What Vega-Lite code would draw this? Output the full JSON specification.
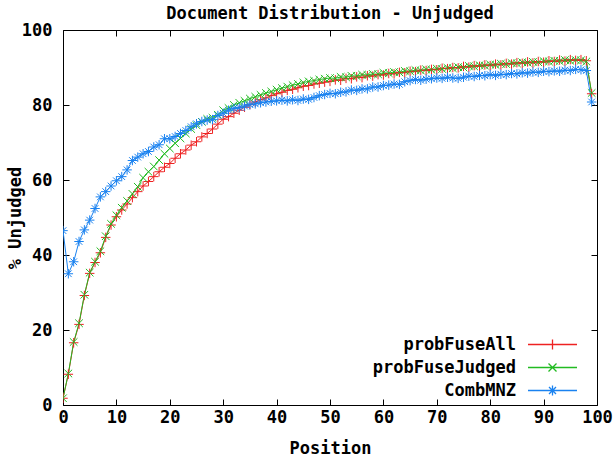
{
"$schema": "https://vega.github.io/schema/vega-lite/v6.json",
"width": 534, "height": 375,
"autosize": {"type": "none"},
"padding": {"left": 63, "top": 30, "right": 17, "bottom": 53},
"background": "white",
"title": {"text": "Document Distribution - Unjudged", "font": "DejaVu Sans Mono", "fontSize": 17, "fontWeight": "bold", "color": "#000", "anchor": "middle", "frame": "group", "offset": -2},
"config": {
 "view": {"stroke": "#000", "strokeWidth": 1},
 "axis": {"labelFont": "DejaVu Sans Mono", "labelFontSize": 17, "labelFontWeight": "bold", "labelColor": "#000", "titleFont": "DejaVu Sans Mono", "titleFontSize": 17, "titleFontWeight": "bold", "titleColor": "#000", "domain": false, "tickColor": "#000", "tickWidth": 1, "tickSize": -6, "grid": false, "labelFlush": false, "labelOverlap": false, "labelBound": false},
 "legend": {"title": null, "padding": 0, "labelFont": "DejaVu Sans Mono", "labelFontSize": 17, "labelFontWeight": "bold", "labelColor": "#000", "labelAlign": "right", "labelOffset": -45, "symbolSize": 100, "symbolStrokeWidth": 1.3, "rowPadding": 5, "labelLimit": 300}
},
"datasets": {"d": [
{"p":0,"s":"probFuseAll","v":1.8},{"p":1,"s":"probFuseAll","v":8.2},{"p":2,"s":"probFuseAll","v":16.6},{"p":3,"s":"probFuseAll","v":21.5},{"p":4,"s":"probFuseAll","v":29.2},{"p":5,"s":"probFuseAll","v":35.1},{"p":6,"s":"probFuseAll","v":38.0},{"p":7,"s":"probFuseAll","v":40.6},{"p":8,"s":"probFuseAll","v":44.7},{"p":9,"s":"probFuseAll","v":48.0},
{"p":10,"s":"probFuseAll","v":50.2},{"p":11,"s":"probFuseAll","v":52.0},{"p":12,"s":"probFuseAll","v":53.6},{"p":13,"s":"probFuseAll","v":55.3},{"p":14,"s":"probFuseAll","v":56.9},{"p":15,"s":"probFuseAll","v":58.4},{"p":16,"s":"probFuseAll","v":59.6},{"p":17,"s":"probFuseAll","v":60.9},{"p":18,"s":"probFuseAll","v":62.2},{"p":19,"s":"probFuseAll","v":63.4},
{"p":20,"s":"probFuseAll","v":64.4},{"p":21,"s":"probFuseAll","v":65.8},{"p":22,"s":"probFuseAll","v":67.0},{"p":23,"s":"probFuseAll","v":68.0},{"p":24,"s":"probFuseAll","v":69.3},{"p":25,"s":"probFuseAll","v":70.2},{"p":26,"s":"probFuseAll","v":71.5},{"p":27,"s":"probFuseAll","v":72.4},{"p":28,"s":"probFuseAll","v":73.6},{"p":29,"s":"probFuseAll","v":74.9},
{"p":30,"s":"probFuseAll","v":76.2},{"p":31,"s":"probFuseAll","v":76.9},{"p":32,"s":"probFuseAll","v":77.8},{"p":33,"s":"probFuseAll","v":78.6},{"p":34,"s":"probFuseAll","v":79.4},{"p":35,"s":"probFuseAll","v":80.1},{"p":36,"s":"probFuseAll","v":80.8},{"p":37,"s":"probFuseAll","v":81.4},{"p":38,"s":"probFuseAll","v":81.9},{"p":39,"s":"probFuseAll","v":82.5},
{"p":40,"s":"probFuseAll","v":83.0},{"p":41,"s":"probFuseAll","v":83.4},{"p":42,"s":"probFuseAll","v":83.9},{"p":43,"s":"probFuseAll","v":84.2},{"p":44,"s":"probFuseAll","v":84.6},{"p":45,"s":"probFuseAll","v":85.0},{"p":46,"s":"probFuseAll","v":85.2},{"p":47,"s":"probFuseAll","v":85.6},{"p":48,"s":"probFuseAll","v":85.8},{"p":49,"s":"probFuseAll","v":86.1},
{"p":50,"s":"probFuseAll","v":86.3},{"p":51,"s":"probFuseAll","v":86.7},{"p":52,"s":"probFuseAll","v":86.6},{"p":53,"s":"probFuseAll","v":87.1},{"p":54,"s":"probFuseAll","v":87.0},{"p":55,"s":"probFuseAll","v":87.5},{"p":56,"s":"probFuseAll","v":87.3},{"p":57,"s":"probFuseAll","v":87.8},{"p":58,"s":"probFuseAll","v":87.7},{"p":59,"s":"probFuseAll","v":88.1},
{"p":60,"s":"probFuseAll","v":88.0},{"p":61,"s":"probFuseAll","v":88.4},{"p":62,"s":"probFuseAll","v":88.3},{"p":63,"s":"probFuseAll","v":88.7},{"p":64,"s":"probFuseAll","v":88.6},{"p":65,"s":"probFuseAll","v":89.0},{"p":66,"s":"probFuseAll","v":88.9},{"p":67,"s":"probFuseAll","v":89.3},{"p":68,"s":"probFuseAll","v":89.2},{"p":69,"s":"probFuseAll","v":89.5},
{"p":70,"s":"probFuseAll","v":89.4},{"p":71,"s":"probFuseAll","v":89.8},{"p":72,"s":"probFuseAll","v":89.7},{"p":73,"s":"probFuseAll","v":90.0},{"p":74,"s":"probFuseAll","v":89.9},{"p":75,"s":"probFuseAll","v":90.3},{"p":76,"s":"probFuseAll","v":90.1},{"p":77,"s":"probFuseAll","v":90.5},{"p":78,"s":"probFuseAll","v":90.3},{"p":79,"s":"probFuseAll","v":90.7},
{"p":80,"s":"probFuseAll","v":90.5},{"p":81,"s":"probFuseAll","v":90.9},{"p":82,"s":"probFuseAll","v":90.7},{"p":83,"s":"probFuseAll","v":91.1},{"p":84,"s":"probFuseAll","v":90.9},{"p":85,"s":"probFuseAll","v":91.3},{"p":86,"s":"probFuseAll","v":91.1},{"p":87,"s":"probFuseAll","v":91.5},{"p":88,"s":"probFuseAll","v":91.2},{"p":89,"s":"probFuseAll","v":91.6},
{"p":90,"s":"probFuseAll","v":91.4},{"p":91,"s":"probFuseAll","v":91.8},{"p":92,"s":"probFuseAll","v":91.6},{"p":93,"s":"probFuseAll","v":92.0},{"p":94,"s":"probFuseAll","v":91.7},{"p":95,"s":"probFuseAll","v":92.1},{"p":96,"s":"probFuseAll","v":91.9},{"p":97,"s":"probFuseAll","v":92.1},{"p":98,"s":"probFuseAll","v":91.8},{"p":99,"s":"probFuseAll","v":83.0},
{"p":0,"s":"probFuseJudged","v":1.8},{"p":1,"s":"probFuseJudged","v":8.4},{"p":2,"s":"probFuseJudged","v":16.8},{"p":3,"s":"probFuseJudged","v":21.8},{"p":4,"s":"probFuseJudged","v":29.4},{"p":5,"s":"probFuseJudged","v":35.3},{"p":6,"s":"probFuseJudged","v":38.2},{"p":7,"s":"probFuseJudged","v":41.0},{"p":8,"s":"probFuseJudged","v":45.0},{"p":9,"s":"probFuseJudged","v":48.3},
{"p":10,"s":"probFuseJudged","v":50.6},{"p":11,"s":"probFuseJudged","v":52.6},{"p":12,"s":"probFuseJudged","v":54.4},{"p":13,"s":"probFuseJudged","v":56.3},{"p":14,"s":"probFuseJudged","v":58.2},{"p":15,"s":"probFuseJudged","v":60.6},{"p":16,"s":"probFuseJudged","v":62.2},{"p":17,"s":"probFuseJudged","v":63.6},{"p":18,"s":"probFuseJudged","v":65.3},{"p":19,"s":"probFuseJudged","v":67.0},
{"p":20,"s":"probFuseJudged","v":68.4},{"p":21,"s":"probFuseJudged","v":69.8},{"p":22,"s":"probFuseJudged","v":71.1},{"p":23,"s":"probFuseJudged","v":72.4},{"p":24,"s":"probFuseJudged","v":73.6},{"p":25,"s":"probFuseJudged","v":74.6},{"p":26,"s":"probFuseJudged","v":75.5},{"p":27,"s":"probFuseJudged","v":76.3},{"p":28,"s":"probFuseJudged","v":76.6},{"p":29,"s":"probFuseJudged","v":77.4},
{"p":30,"s":"probFuseJudged","v":78.6},{"p":31,"s":"probFuseJudged","v":79.2},{"p":32,"s":"probFuseJudged","v":80.0},{"p":33,"s":"probFuseJudged","v":80.6},{"p":34,"s":"probFuseJudged","v":81.1},{"p":35,"s":"probFuseJudged","v":81.7},{"p":36,"s":"probFuseJudged","v":82.2},{"p":37,"s":"probFuseJudged","v":82.7},{"p":38,"s":"probFuseJudged","v":83.2},{"p":39,"s":"probFuseJudged","v":83.6},
{"p":40,"s":"probFuseJudged","v":84.1},{"p":41,"s":"probFuseJudged","v":84.5},{"p":42,"s":"probFuseJudged","v":84.9},{"p":43,"s":"probFuseJudged","v":85.3},{"p":44,"s":"probFuseJudged","v":85.6},{"p":45,"s":"probFuseJudged","v":86.0},{"p":46,"s":"probFuseJudged","v":86.3},{"p":47,"s":"probFuseJudged","v":86.5},{"p":48,"s":"probFuseJudged","v":86.8},{"p":49,"s":"probFuseJudged","v":87.0},
{"p":50,"s":"probFuseJudged","v":87.2},{"p":51,"s":"probFuseJudged","v":87.1},{"p":52,"s":"probFuseJudged","v":87.5},{"p":53,"s":"probFuseJudged","v":87.4},{"p":54,"s":"probFuseJudged","v":87.8},{"p":55,"s":"probFuseJudged","v":87.7},{"p":56,"s":"probFuseJudged","v":88.1},{"p":57,"s":"probFuseJudged","v":88.0},{"p":58,"s":"probFuseJudged","v":88.3},{"p":59,"s":"probFuseJudged","v":88.2},
{"p":60,"s":"probFuseJudged","v":88.6},{"p":61,"s":"probFuseJudged","v":88.5},{"p":62,"s":"probFuseJudged","v":88.8},{"p":63,"s":"probFuseJudged","v":88.7},{"p":64,"s":"probFuseJudged","v":89.1},{"p":65,"s":"probFuseJudged","v":89.0},{"p":66,"s":"probFuseJudged","v":89.3},{"p":67,"s":"probFuseJudged","v":89.2},{"p":68,"s":"probFuseJudged","v":89.5},{"p":69,"s":"probFuseJudged","v":89.4},
{"p":70,"s":"probFuseJudged","v":89.7},{"p":71,"s":"probFuseJudged","v":89.6},{"p":72,"s":"probFuseJudged","v":89.9},{"p":73,"s":"probFuseJudged","v":89.8},{"p":74,"s":"probFuseJudged","v":90.1},{"p":75,"s":"probFuseJudged","v":90.0},{"p":76,"s":"probFuseJudged","v":90.4},{"p":77,"s":"probFuseJudged","v":90.3},{"p":78,"s":"probFuseJudged","v":90.6},{"p":79,"s":"probFuseJudged","v":90.5},
{"p":80,"s":"probFuseJudged","v":90.8},{"p":81,"s":"probFuseJudged","v":90.7},{"p":82,"s":"probFuseJudged","v":91.0},{"p":83,"s":"probFuseJudged","v":90.9},{"p":84,"s":"probFuseJudged","v":91.2},{"p":85,"s":"probFuseJudged","v":91.1},{"p":86,"s":"probFuseJudged","v":91.4},{"p":87,"s":"probFuseJudged","v":91.3},{"p":88,"s":"probFuseJudged","v":91.5},{"p":89,"s":"probFuseJudged","v":91.4},
{"p":90,"s":"probFuseJudged","v":91.7},{"p":91,"s":"probFuseJudged","v":91.6},{"p":92,"s":"probFuseJudged","v":91.8},{"p":93,"s":"probFuseJudged","v":91.7},{"p":94,"s":"probFuseJudged","v":92.0},{"p":95,"s":"probFuseJudged","v":91.8},{"p":96,"s":"probFuseJudged","v":92.0},{"p":97,"s":"probFuseJudged","v":91.9},{"p":98,"s":"probFuseJudged","v":91.6},{"p":99,"s":"probFuseJudged","v":83.2},
{"p":0,"s":"CombMNZ","v":46.5},{"p":1,"s":"CombMNZ","v":35.0},{"p":2,"s":"CombMNZ","v":38.2},{"p":3,"s":"CombMNZ","v":43.6},{"p":4,"s":"CombMNZ","v":46.7},{"p":5,"s":"CombMNZ","v":49.3},{"p":6,"s":"CombMNZ","v":52.4},{"p":7,"s":"CombMNZ","v":55.5},{"p":8,"s":"CombMNZ","v":56.9},{"p":9,"s":"CombMNZ","v":58.4},
{"p":10,"s":"CombMNZ","v":59.8},{"p":11,"s":"CombMNZ","v":60.9},{"p":12,"s":"CombMNZ","v":62.7},{"p":13,"s":"CombMNZ","v":65.2},{"p":14,"s":"CombMNZ","v":66.1},{"p":15,"s":"CombMNZ","v":67.0},{"p":16,"s":"CombMNZ","v":67.6},{"p":17,"s":"CombMNZ","v":68.8},{"p":18,"s":"CombMNZ","v":69.4},{"p":19,"s":"CombMNZ","v":71.0},
{"p":20,"s":"CombMNZ","v":71.0},{"p":21,"s":"CombMNZ","v":71.6},{"p":22,"s":"CombMNZ","v":72.4},{"p":23,"s":"CombMNZ","v":73.2},{"p":24,"s":"CombMNZ","v":74.2},{"p":25,"s":"CombMNZ","v":75.0},{"p":26,"s":"CombMNZ","v":75.6},{"p":27,"s":"CombMNZ","v":76.0},{"p":28,"s":"CombMNZ","v":76.1},{"p":29,"s":"CombMNZ","v":77.2},
{"p":30,"s":"CombMNZ","v":77.8},{"p":31,"s":"CombMNZ","v":78.6},{"p":32,"s":"CombMNZ","v":79.1},{"p":33,"s":"CombMNZ","v":79.3},{"p":34,"s":"CombMNZ","v":79.7},{"p":35,"s":"CombMNZ","v":80.1},{"p":36,"s":"CombMNZ","v":80.3},{"p":37,"s":"CombMNZ","v":80.6},{"p":38,"s":"CombMNZ","v":80.8},{"p":39,"s":"CombMNZ","v":81.0},
{"p":40,"s":"CombMNZ","v":81.1},{"p":41,"s":"CombMNZ","v":81.3},{"p":42,"s":"CombMNZ","v":81.1},{"p":43,"s":"CombMNZ","v":81.4},{"p":44,"s":"CombMNZ","v":81.2},{"p":45,"s":"CombMNZ","v":81.6},{"p":46,"s":"CombMNZ","v":81.5},{"p":47,"s":"CombMNZ","v":82.0},{"p":48,"s":"CombMNZ","v":82.5},{"p":49,"s":"CombMNZ","v":82.8},
{"p":50,"s":"CombMNZ","v":83.1},{"p":51,"s":"CombMNZ","v":83.0},{"p":52,"s":"CombMNZ","v":83.4},{"p":53,"s":"CombMNZ","v":83.5},{"p":54,"s":"CombMNZ","v":84.0},{"p":55,"s":"CombMNZ","v":83.9},{"p":56,"s":"CombMNZ","v":84.3},{"p":57,"s":"CombMNZ","v":84.3},{"p":58,"s":"CombMNZ","v":84.8},{"p":59,"s":"CombMNZ","v":84.8},
{"p":60,"s":"CombMNZ","v":85.2},{"p":61,"s":"CombMNZ","v":85.3},{"p":62,"s":"CombMNZ","v":85.6},{"p":63,"s":"CombMNZ","v":85.5},{"p":64,"s":"CombMNZ","v":86.2},{"p":65,"s":"CombMNZ","v":86.5},{"p":66,"s":"CombMNZ","v":86.8},{"p":67,"s":"CombMNZ","v":86.6},{"p":68,"s":"CombMNZ","v":86.9},{"p":69,"s":"CombMNZ","v":87.0},
{"p":70,"s":"CombMNZ","v":87.2},{"p":71,"s":"CombMNZ","v":87.1},{"p":72,"s":"CombMNZ","v":87.4},{"p":73,"s":"CombMNZ","v":87.2},{"p":74,"s":"CombMNZ","v":87.1},{"p":75,"s":"CombMNZ","v":87.4},{"p":76,"s":"CombMNZ","v":87.7},{"p":77,"s":"CombMNZ","v":87.6},{"p":78,"s":"CombMNZ","v":87.9},{"p":79,"s":"CombMNZ","v":87.8},
{"p":80,"s":"CombMNZ","v":88.1},{"p":81,"s":"CombMNZ","v":87.9},{"p":82,"s":"CombMNZ","v":88.2},{"p":83,"s":"CombMNZ","v":88.1},{"p":84,"s":"CombMNZ","v":88.4},{"p":85,"s":"CombMNZ","v":88.3},{"p":86,"s":"CombMNZ","v":88.6},{"p":87,"s":"CombMNZ","v":88.5},{"p":88,"s":"CombMNZ","v":88.8},{"p":89,"s":"CombMNZ","v":88.7},
{"p":90,"s":"CombMNZ","v":89.0},{"p":91,"s":"CombMNZ","v":88.9},{"p":92,"s":"CombMNZ","v":89.1},{"p":93,"s":"CombMNZ","v":89.0},{"p":94,"s":"CombMNZ","v":89.3},{"p":95,"s":"CombMNZ","v":89.2},{"p":96,"s":"CombMNZ","v":89.5},{"p":97,"s":"CombMNZ","v":89.4},{"p":98,"s":"CombMNZ","v":89.2},{"p":99,"s":"CombMNZ","v":80.8}
]},
"data": {"name": "d"},
"layer": [
 {
  "mark": {"type": "line", "strokeWidth": 1, "clip": true},
  "encoding": {
   "x": {"field": "p", "type": "quantitative", "scale": {"domain": [0, 100], "nice": false, "zero": false}, "axis": {"orient": "bottom", "values": [0,10,20,30,40,50,60,70,80,90,100], "title": "Position", "labelPadding": 10, "titlePadding": 15}},
   "y": {"field": "v", "type": "quantitative", "scale": {"domain": [0, 100], "nice": false}, "axis": {"orient": "left", "values": [0,20,40,60,80,100], "title": "% Unjudged", "labelPadding": 17, "titlePadding": -3}},
   "color": {"field": "s", "type": "nominal", "scale": {"domain": ["probFuseAll", "probFuseJudged", "CombMNZ"], "range": ["#ee2222", "#22bb22", "#1a82f0"]}}
  }
 },
 {
  "transform": [{"filter": "datum.s == 'probFuseAll'"}],
  "mark": {"type": "point", "filled": false, "strokeWidth": 1, "size": 90, "opacity": 1, "clip": true, "shape": "M-1,0H1M0,-1V1"},
  "encoding": {
   "x": {"field": "p", "type": "quantitative", "axis": {"orient": "top", "values": [0,10,20,30,40,50,60,70,80,90,100], "labels": false, "title": null}},
   "y": {"field": "v", "type": "quantitative", "axis": {"orient": "right", "values": [0,20,40,60,80,100], "labels": false, "title": null}},
   "color": {"field": "s", "type": "nominal"}
  }
 },
 {
  "transform": [{"filter": "datum.s == 'probFuseJudged'"}],
  "mark": {"type": "point", "filled": false, "strokeWidth": 1, "size": 90, "opacity": 1, "clip": true, "shape": "M-0.8,-0.8L0.8,0.8M-0.8,0.8L0.8,-0.8"},
  "encoding": {
   "x": {"field": "p", "type": "quantitative", "axis": null},
   "y": {"field": "v", "type": "quantitative", "axis": null},
   "color": {"field": "s", "type": "nominal"}
  }
 },
 {
  "transform": [{"filter": "datum.s == 'CombMNZ'"}],
  "mark": {"type": "point", "filled": false, "strokeWidth": 1, "size": 90, "opacity": 1, "clip": true, "shape": "M-1,0H1M0,-1V1M-0.7,-0.7L0.7,0.7M-0.7,0.7L0.7,-0.7"},
  "encoding": {
   "x": {"field": "p", "type": "quantitative", "axis": null},
   "y": {"field": "v", "type": "quantitative", "axis": null},
   "color": {"field": "s", "type": "nominal"}
  }
 },
 {
  "transform": [{"filter": "datum.p < 0"}],
  "mark": {"type": "point", "filled": false, "strokeWidth": 1.3, "opacity": 1},
  "encoding": {
   "x": {"field": "p", "type": "quantitative", "axis": null},
   "y": {"field": "v", "type": "quantitative", "axis": null},
   "color": {"field": "s", "type": "nominal", "legend": {"orient": "none", "legendX": 481, "legendY": 306}},
   "shape": {"field": "s", "type": "nominal", "scale": {"domain": ["probFuseAll", "probFuseJudged", "CombMNZ"], "range": ["M-4.9,0H4.9M0,-1V1", "M-4.9,0H4.9M-0.8,-0.8L0.8,0.8M-0.8,0.8L0.8,-0.8", "M-4.9,0H4.9M0,-1V1M-0.7,-0.7L0.7,0.7M-0.7,0.7L0.7,-0.7"]}, "legend": {"orient": "none", "legendX": 481, "legendY": 306}}
  }
 }
],
"resolve": {"axis": {"x": "independent", "y": "independent"}}
}
